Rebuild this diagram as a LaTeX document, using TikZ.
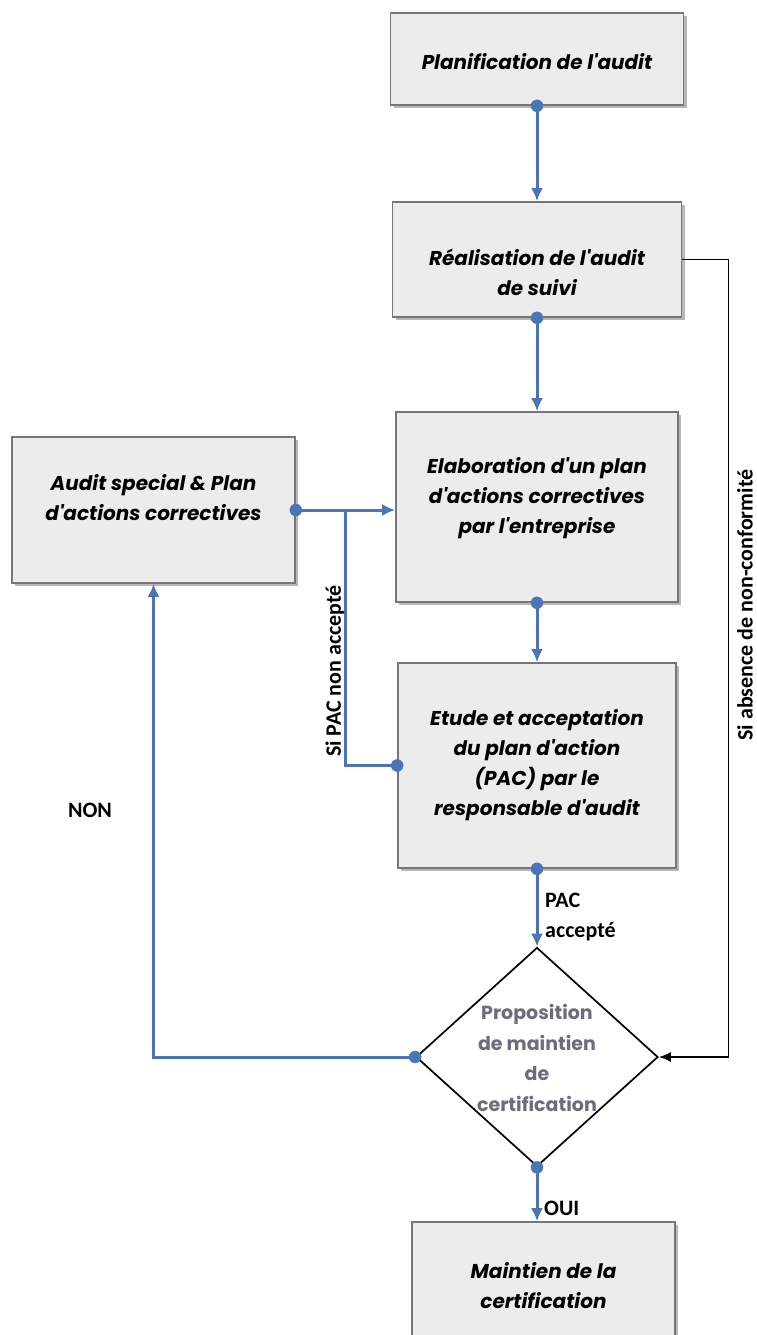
\documentclass[tikz,border=0pt]{standalone}
\usepackage{fontspec}
\usepackage{xcolor}
\usetikzlibrary{arrows.meta,shadows,shapes.geometric,calc}
\setmainfont{Carlito}
\newfontfamily\gothic{Poppins}

\definecolor{flowblue}{RGB}{74,118,182}
\definecolor{boxgray}{RGB}{236,236,236}
\definecolor{edgegray}{RGB}{118,118,118}
\definecolor{decgray}{RGB}{108,108,124}

\tikzset{
	stepbox/.style={draw=edgegray,line width=1.6pt,fill=boxgray,inner sep=0pt,
		drop shadow={shadow xshift=3pt,shadow yshift=-3pt,opacity=0.4,fill=black!70}},
	steptext/.style={align=center,inner sep=0pt,font=\gothic\bfseries\itshape\fontsize{20}{30}\selectfont},
	flow/.style={flowblue,line width=3pt},
	tag/.style={font=\bfseries\fontsize{22}{30}\selectfont,inner sep=0pt},
}

\begin{document}
\begin{tikzpicture}[x=1pt,y=-1pt,>={Latex[length=13pt,width=12pt]}]
		\useasboundingbox (0,0) rectangle (757,1335);
		% boxes
		\node[stepbox,minimum width=293pt,minimum height=92pt] (plan) at (537,59) {};
		\node[stepbox,minimum width=289pt,minimum height=115pt] (real) at (537,259.5) {};
		\node[stepbox,minimum width=282pt,minimum height=190pt] (elab) at (537,507) {};
		\node[stepbox,minimum width=278pt,minimum height=205pt] (etude) at (537,765.5) {};
		\node[stepbox,minimum width=283pt,minimum height=146pt] (special) at (153.5,510) {};
		\node[stepbox,minimum width=263pt,minimum height=128pt] (maint) at (543.5,1286) {};
		\node[draw=black,line width=1.7pt,fill=white,diamond,minimum width=242pt,minimum height=219pt,inner sep=0pt] (dec) at (537,1057) {};
		% texts
		\node[steptext] (plantxt) at ($(plan)+(0,3)$) {Planification de l'audit};
		\node[steptext] (realtxt) at ($(real)+(0,13)$) {Réalisation de l'audit\\de suivi};
		\node[steptext] (elabtxt) at ($(elab)+(0,-9)$) {Elaboration d'un plan\\d'actions correctives\\par l'entreprise};
		\node[steptext] (etudetxt) at (etude) {Etude et acceptation\\du plan d'action\\(PAC) par le\\responsable d'audit};
		\node[steptext] (specialtxt) at ($(special)+(0,-12)$) {Audit special \& Plan\\d'actions correctives};
		\node[steptext] (mainttxt) at (maint) {Maintien de la\\certification};
		\node[text=decgray,align=center,font=\gothic\bfseries\fontsize{19}{30.5}\selectfont] (dectxt) at ($(dec)+(0,1)$) {Proposition\\de maintien\\de\\certification};
		\coordinate (pacjoin) at ($(special.east)!0.5!(elab.west)$);

		% blue links
		\draw[flow,->] (plan.south) -- (real.north);
		\draw[flow,->] (real.south) -- (elab.north);
		\draw[flow,->] (elab.south) -- (etude.north);
		\draw[flow,->] (etude.south) -- (dec.north);
		\draw[flow,->] (special.east) -- (elab.west |- special.east);
		\draw[flow] (etude.west) -| (pacjoin);
		\draw[flow,->] (dec.west) -| (special.south);
		\draw[flow,->] (dec.south) -- (maint.north -| dec.south);
		\draw[black,line width=1.6pt,-{Latex[length=12pt,width=10pt]}] (real.east) -- ++(46,0) |- (dec.east);
		\foreach \p in {plan.south,real.south,elab.south,etude.south,special.east,etude.west,dec.west,dec.south}
			\filldraw[flowblue] (\p) circle (6pt);

		% labels
		\node[tag,align=left,anchor=west] (pacok) at (545,917) {PAC\\accepté};
		\node[tag] (non) at (90,810) {NON};
		\node[tag,anchor=west] (oui) at (544,1208) {OUI};
		\node[tag,rotate=90,anchor=west] (pacno) at (335,757) {Si PAC non accepté};
		\node[tag,rotate=90] (absnc) at (745,605) {Si absence de non-conformité};
	\end{tikzpicture}
\end{document}
